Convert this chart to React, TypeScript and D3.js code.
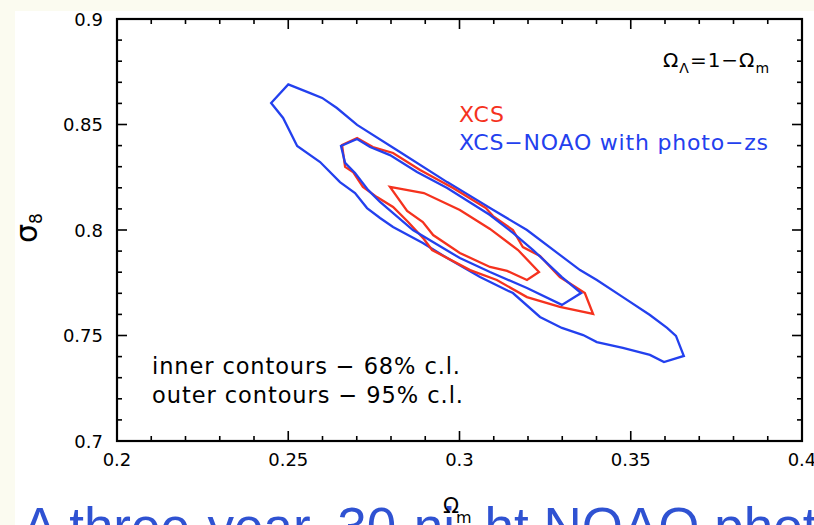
import * as d3 from "d3";

// contour vertices, [omega_m, sigma_8]
const noaoOuter: [number, number][] = [
  [0.25, 0.869], [0.2564, 0.8649], [0.2599, 0.8626], [0.2642, 0.8578], [0.2701, 0.8498],
  [0.2826, 0.837], [0.2964, 0.8227], [0.3089, 0.8104], [0.3197, 0.8], [0.3293, 0.7882],
  [0.3352, 0.781], [0.3401, 0.7763], [0.3477, 0.7682], [0.3556, 0.7597], [0.3606, 0.7536],
  [0.3632, 0.7498], [0.3655, 0.7403], [0.3597, 0.7374], [0.3556, 0.7408], [0.3477, 0.7441],
  [0.3401, 0.7469], [0.3361, 0.7502], [0.3299, 0.7536], [0.3235, 0.7588], [0.3156, 0.7701],
  [0.306, 0.7777], [0.2964, 0.7867], [0.2893, 0.7938], [0.2806, 0.8014], [0.2768, 0.8057],
  [0.273, 0.8104], [0.2695, 0.8175], [0.2651, 0.8227], [0.2593, 0.8322], [0.2526, 0.8398],
  [0.2485, 0.8531], [0.245, 0.8602],
];

const noaoInner: [number, number][] = [
  [0.2654, 0.8398], [0.2701, 0.8431], [0.2739, 0.8393], [0.2797, 0.8355], [0.2876, 0.8275],
  [0.2964, 0.8199], [0.3089, 0.8071], [0.3156, 0.7986], [0.3215, 0.7905], [0.3299, 0.7777],
  [0.3355, 0.7701], [0.3299, 0.7645], [0.3197, 0.7725], [0.3089, 0.7801], [0.3001, 0.7867],
  [0.2864, 0.8], [0.2768, 0.8133], [0.2733, 0.819], [0.2695, 0.827], [0.2666, 0.8318],
];

const xcsOuter: [number, number][] = [
  [0.2657, 0.8403], [0.2701, 0.8436], [0.2747, 0.8393], [0.2806, 0.8365], [0.2885, 0.8284],
  [0.2981, 0.8199], [0.3077, 0.8104], [0.3098, 0.8066], [0.3156, 0.8], [0.3185, 0.7919],
  [0.3235, 0.7877], [0.3293, 0.7777], [0.3366, 0.7701], [0.339, 0.7602], [0.3293, 0.7636],
  [0.3197, 0.7682], [0.3109, 0.7763], [0.3031, 0.781], [0.292, 0.7905], [0.2896, 0.7957],
  [0.285, 0.8038], [0.2806, 0.8109], [0.2759, 0.8156], [0.2718, 0.8204], [0.2689, 0.8275],
  [0.2666, 0.8299],
];

const xcsInner: [number, number][] = [
  [0.2797, 0.8204], [0.2896, 0.8175], [0.3001, 0.8095], [0.3089, 0.8005], [0.3171, 0.7905],
  [0.3232, 0.7801], [0.3197, 0.7763], [0.3139, 0.7806], [0.3089, 0.7825], [0.3001, 0.7891],
  [0.2923, 0.7976], [0.2893, 0.8038], [0.2847, 0.809],
];

const xTickLabels = ["0.2", "0.25", "0.3", "0.35", "0.4"];
const yTickLabels = ["0.7", "0.75", "0.8", "0.85", "0.9"];

const W = 814;
const H = 525;
const RED = "#f5321e";
const BLUE = "#2340ee";
const FONT = "'DejaVu Sans', sans-serif";

export default function App() {
  const x = d3.scaleLinear().domain([0.2, 0.4]).range([117, 802]);
  const y = d3.scaleLinear().domain([0.7, 0.9]).range([441, 19]);

  const line = d3
    .line<[number, number]>()
    .x((d) => x(d[0]))
    .y((d) => y(d[1]))
    .curve(d3.curveLinearClosed);

  const xMinor = d3.range(0.2, 0.4001, 0.01);
  const yMinor = d3.range(0.7, 0.9001, 0.01);
  const isMajor = (v: number) => Math.abs(v * 20 - Math.round(v * 20)) < 1e-6;

  const contours = [
    { pts: noaoOuter, c: BLUE },
    { pts: xcsOuter, c: RED },
    { pts: noaoInner, c: BLUE },
    { pts: xcsInner, c: RED },
  ];

  return (
    <svg width={W} height={H} style={{ position: "absolute", left: 0, top: 0, display: "block" }}>
      <rect width={W} height={H} fill="#fbfbf0" />
      <rect x={15} y={11} width={W - 15} height={H - 11} fill="#ffffff" />

      {/* caption behind the plot */}
      <text x={22} y={545} fontFamily="'Liberation Sans', Arial, sans-serif" fontSize={53} fill="#2f52d2">
        A three-year, 30-night NOAO photometric survey
      </text>

      {/* ticks */}
      <g stroke="#000" strokeWidth={1.6}>
        {xMinor.map((v, i) => {
          const len = isMajor(v) ? 10 : 5;
          return (
            <g key={"x" + i}>
              <line x1={x(v)} x2={x(v)} y1={y(0.7)} y2={y(0.7) - len} />
              <line x1={x(v)} x2={x(v)} y1={y(0.9)} y2={y(0.9) + len} />
            </g>
          );
        })}
        {yMinor.map((v, i) => {
          const len = isMajor(v) ? 10 : 5;
          return (
            <g key={"y" + i}>
              <line y1={y(v)} y2={y(v)} x1={x(0.2)} x2={x(0.2) + len} />
              <line y1={y(v)} y2={y(v)} x1={x(0.4)} x2={x(0.4) - len} />
            </g>
          );
        })}
      </g>
      <rect x={x(0.2)} y={y(0.9)} width={x(0.4) - x(0.2)} height={y(0.7) - y(0.9)} fill="none" stroke="#000" strokeWidth={2.2} />

      {/* tick labels */}
      <g fontFamily={FONT} fontSize={18} fill="#000">
        {xTickLabels.map((t) => (
          <text key={t} x={x(+t)} y={466} textAnchor="middle">{t}</text>
        ))}
        {yTickLabels.map((t) => (
          <text key={t} x={103} y={y(+t) + 6.5} textAnchor="end">{t}</text>
        ))}
      </g>

      {/* contours */}
      {contours.map((c, i) => (
        <path key={i} d={line(c.pts) ?? ""} fill="none" stroke={c.c} strokeWidth={2.3} strokeLinejoin="miter" />
      ))}

      {/* annotations */}
      <g fontFamily={FONT}>
        <text x={663} y={67} fontSize={20} letterSpacing={1} fill="#000">
          Ω<tspan fontSize={14} dy={6}>Λ</tspan>
          <tspan dy={-6}>=1−Ω</tspan>
          <tspan fontSize={14} dy={6}>m</tspan>
        </text>
        <text x={459} y={122} fontSize={22} fill={RED} textLength={45} lengthAdjust="spacing">XCS</text>
        <text x={459} y={150} fontSize={22} fill={BLUE} textLength={309} lengthAdjust="spacing">XCS−NOAO with photo−zs</text>
        <text x={152} y={374} fontSize={22.5} fill="#000" textLength={308} lengthAdjust="spacing">inner contours − 68% c.l.</text>
        <text x={152} y={403} fontSize={22.5} fill="#000" textLength={311} lengthAdjust="spacing">outer contours − 95% c.l.</text>
      </g>

      {/* axis titles */}
      <text transform="translate(37,243) rotate(-90)" fontFamily={FONT} fontSize={30} fill="#000">
        σ<tspan fontSize={17} dy={5}>8</tspan>
      </text>
      <rect x={458} y={496} width={30} height={29} fill="#ffffff" />
      <text x={443} y={513} fontFamily={FONT} fontSize={21} fill="#000">
        Ω<tspan fontSize={16} dx={-3} dy={10}>m</tspan>
      </text>
    </svg>
  );
}
